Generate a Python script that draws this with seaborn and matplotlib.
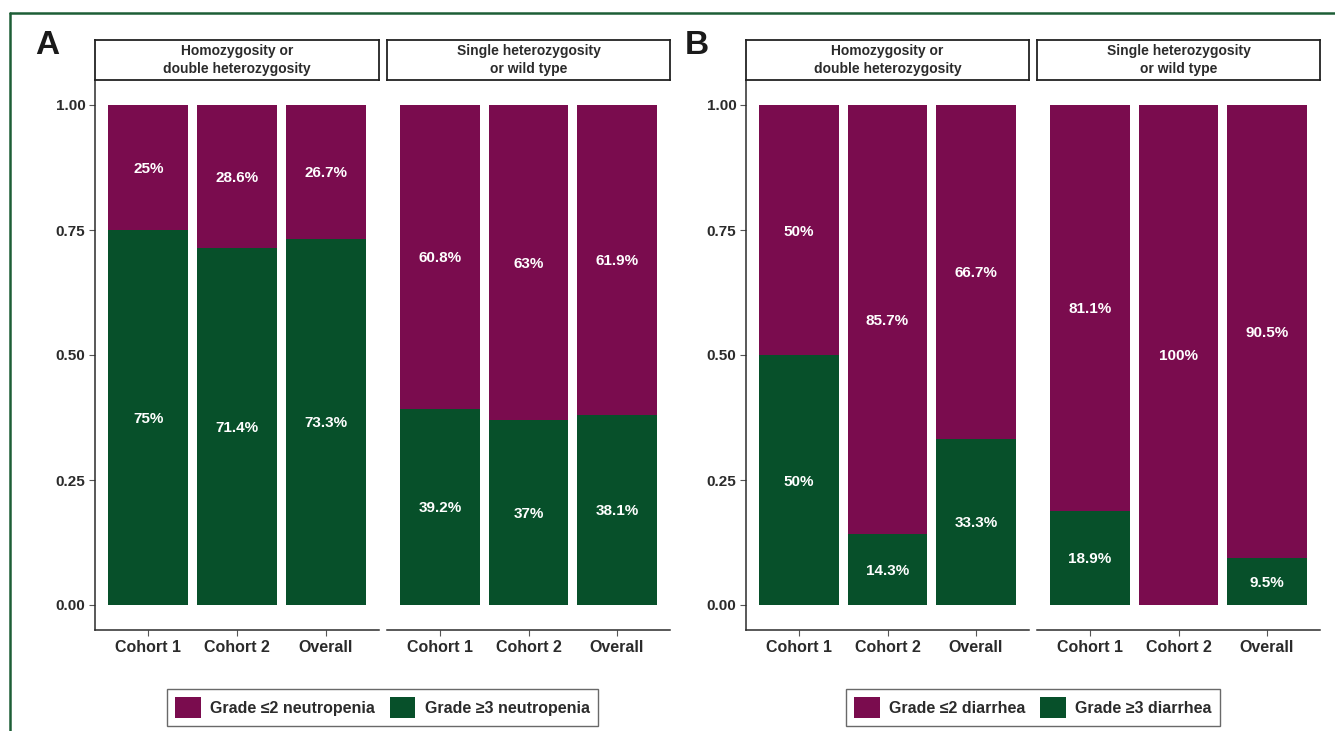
import numpy as np
import pandas as pd
import matplotlib
matplotlib.use('Agg')
import matplotlib.pyplot as plt
import seaborn as sns
from matplotlib.lines import Line2D
from matplotlib.patches import Patch

# data
cohorts = ['Cohort 1', 'Cohort 2', 'Overall']
facets = ['Homozygosity or\ndouble heterozygosity', 'Single heterozygosity\nor wild type']

# neutropenia (panel A): grade <=2 and grade >=3 in %
neut_low = [[25, 28.6, 26.7], [60.8, 63, 61.9]]
neut_high = [[75, 71.4, 73.3], [39.2, 37, 38.1]]
# diarrhea (panel B)
diar_low = [[50, 85.7, 66.7], [81.1, 100, 90.5]]
diar_high = [[50, 14.3, 33.3], [18.9, 0, 9.5]]

legend_a = ['Grade \u22642 neutropenia', 'Grade \u22653 neutropenia']
legend_b = ['Grade \u22642 diarrhea', 'Grade \u22653 diarrhea']

purple = '#7a0c4e'
green = '#07502a'
txt = '#2b2b2b'

sns.set_theme(style='white')
plt.rcParams['font.family'] = ['Liberation Sans', 'DejaVu Sans']
plt.rcParams['font.weight'] = 'bold'

W, H = 1335, 731
fig = plt.figure(figsize=(W / 100, H / 100), dpi=100)


def px_axes(x0, x1, ytop, ybot):
    return fig.add_axes([x0 / W, 1 - ybot / H, (x1 - x0) / W, (ybot - ytop) / H])


def draw_panel(lefts, low, high, labels, letter, letter_x):
    for k, (x0, x1) in enumerate(lefts):
        ax = px_axes(x0, x1, 80, 630)
        df = pd.DataFrame({'cohort': cohorts,
                           'low': np.array(low[k]) / 100,
                           'high': np.array(high[k]) / 100})
        df['total'] = df['low'] + df['high']
        sns.barplot(data=df, x='cohort', y='total', color=purple, width=0.9,
                    saturation=1, order=cohorts, linewidth=0, ax=ax)
        sns.barplot(data=df, x='cohort', y='high', color=green, width=0.9,
                    saturation=1, order=cohorts, linewidth=0, ax=ax)
        for i, row in df.iterrows():
            if row['high'] > 0:
                ax.text(i, row['high'] / 2, '{:g}%'.format(high[k][i]), color='white',
                        ha='center', va='center_baseline', fontsize=11, fontweight='bold')
            if row['low'] > 0:
                ax.text(i, row['high'] + row['low'] / 2, '{:g}%'.format(low[k][i]),
                        color='white', ha='center', va='center_baseline', fontsize=11,
                        fontweight='bold')
        ax.set_xlim(-0.6, 2.6)
        ax.set_ylim(-0.05, 1.05)
        ax.set_xlabel('')
        ax.set_ylabel('')
        ax.spines['top'].set_visible(False)
        ax.spines['right'].set_visible(False)
        ax.spines['bottom'].set_color(txt)
        ax.spines['bottom'].set_linewidth(1.1)
        ax.tick_params(axis='x', length=4, width=0.8, color='#555555',
                       labelsize=11.5, labelcolor=txt, pad=3, bottom=True)
        if k == 0:
            ax.spines['left'].set_color(txt)
            ax.spines['left'].set_linewidth(1.1)
            ax.set_yticks([0, 0.25, 0.5, 0.75, 1.0])
            ax.set_yticklabels(['0.00', '0.25', '0.50', '0.75', '1.00'])
            ax.tick_params(axis='y', length=4, width=0.8, color='#555555',
                           labelsize=11, labelcolor=txt, pad=3, left=True)
        else:
            ax.spines['left'].set_visible(False)
            ax.set_yticks([])
        for lbl in ax.get_xticklabels() + ax.get_yticklabels():
            lbl.set_fontweight('bold')

        # strip
        sx = px_axes(x0, x1, 40, 80)
        sx.set_xticks([])
        sx.set_yticks([])
        for s in sx.spines.values():
            s.set_visible(True)
            s.set_color('#222222')
            s.set_linewidth(1.3)
        sx.text(0.5, 0.5, facets[k], ha='center', va='center', fontsize=10,
                fontweight='bold', color=txt, linespacing=1.3,
                transform=sx.transAxes)

    fig.text(letter_x / W, 1 - 45 / H, letter, fontsize=24, fontweight='bold',
             color='#1a1a1a', ha='center', va='center')

    cx = (lefts[0][0] + lefts[1][1]) / 2
    handles = [Patch(facecolor=purple, edgecolor='none'),
               Patch(facecolor=green, edgecolor='none')]
    leg = fig.legend(handles, labels, loc='center', bbox_to_anchor=(cx / W, 1 - 707.5 / H),
                     ncol=2, frameon=True, fontsize=11.5, handlelength=1.6,
                     handleheight=1.6, handletextpad=0.6, columnspacing=0.9,
                     borderpad=0.5, fancybox=False)
    leg.get_frame().set_edgecolor('#444444')
    leg.get_frame().set_linewidth(1.0)
    for t in leg.get_texts():
        t.set_color(txt)
        t.set_fontweight('bold')


draw_panel([(95, 379), (387, 670)], neut_low, neut_high, legend_a, 'A', 47)
draw_panel([(746, 1029), (1037, 1320)], diar_low, diar_high, legend_b, 'B', 697)

# outer frame lines (top and left)
fig.add_artist(Line2D([10 / W, 1], [1 - 13 / H, 1 - 13 / H], color='#1d5e36', lw=1.8,
                      transform=fig.transFigure))
fig.add_artist(Line2D([10 / W, 10 / W], [1 - 13 / H, 0], color='#1d5e36', lw=1.8,
                      transform=fig.transFigure))

fig.savefig('out.png', dpi=100)
